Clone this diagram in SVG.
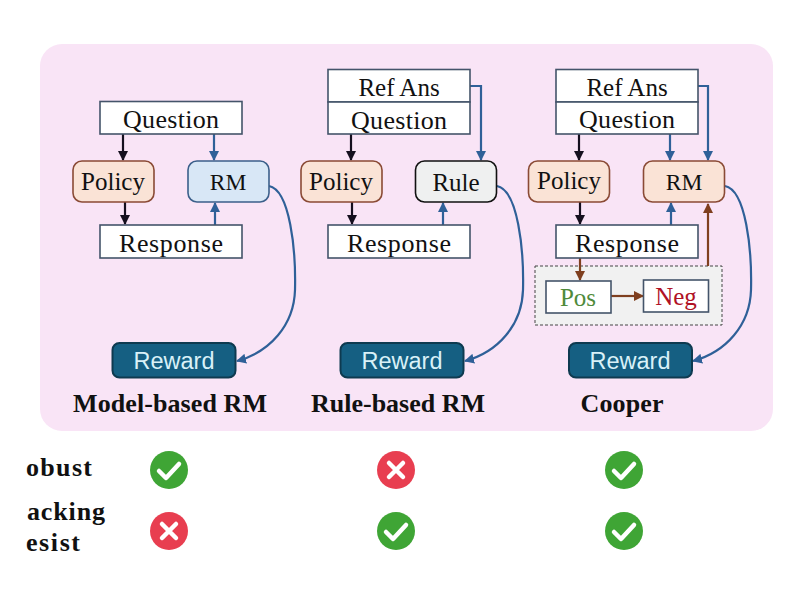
<svg xmlns="http://www.w3.org/2000/svg" width="800" height="600" viewBox="0 0 800 600">
<style>
text{font-family:"Liberation Serif","Noto Serif",serif;fill:#111;text-anchor:middle}
.t{font-size:25px}
.s{font-size:23.5px}
.q{font-size:26px}
.b{font-size:26px;font-weight:bold}
.l{font-size:26px;font-weight:bold;text-anchor:start}
.r{fill:#fff;stroke:#44546a;stroke-width:1.6}
.p{fill:#fae3d6;stroke:#8a4a35;stroke-width:1.6}
.w{fill:#155f82;stroke:#0e3a50;stroke-width:2}
.wt{font-family:"Liberation Sans",sans-serif;font-size:23.5px;fill:#d9f1f8}
.k,.u,.o{fill:none;stroke-width:2.2}
.k{stroke:#150f1e;marker-end:url(#ak)}
.u{stroke:#2f6098;marker-end:url(#au)}
.o{stroke:#7f3f1f;marker-end:url(#ao)}
.ok{fill:#3fa535}.no{fill:#e83e50}
.m{fill:none;stroke:#fff;stroke-width:4.5;stroke-linecap:round;stroke-linejoin:round}
</style>
<defs>
<marker id="ak" markerWidth="11" markerHeight="10" refX="9" refY="5" orient="auto" markerUnits="userSpaceOnUse"><path d="M0 0L10 5L0 10Z" fill="#150f1e"/></marker>
<marker id="au" markerWidth="11" markerHeight="10" refX="9" refY="5" orient="auto" markerUnits="userSpaceOnUse"><path d="M0 0L10 5L0 10Z" fill="#2f6098"/></marker>
<marker id="ao" markerWidth="11" markerHeight="10" refX="9" refY="5" orient="auto" markerUnits="userSpaceOnUse"><path d="M0 0L10 5L0 10Z" fill="#7f3f1f"/></marker>
</defs>
<rect width="800" height="600" fill="#fff"/>
<rect id="panel" x="40" y="44" width="733" height="387" rx="22" fill="#f9e4f6"/>
<g id="group-box"><rect x="535" y="266" width="187" height="59" fill="#f1f1f1" stroke="#444" stroke-width="1" stroke-dasharray="3 2"/></g>
<g id="connectors">
<path class="k" d="M123 134V160"/><path class="k" d="M125 202V224"/>
<path class="u" d="M214 134V160"/><path class="u" d="M215 225V203"/>
<path class="u" d="M269 186C290 190 296 250 295 290C294 325 270 352 237 361"/>
<path class="k" d="M351 134V160"/><path class="k" d="M352 202V224"/>
<path class="u" d="M470 86H481V160"/><path class="u" d="M443 225V203"/>
<path class="u" d="M497 186C518 190 524 250 523 290C522 325 498 352 465 361"/>
<path class="k" d="M579 134V160"/><path class="k" d="M580 202V224"/>
<path class="u" d="M670 134V160"/><path class="u" d="M698 86H708V160"/><path class="u" d="M671 225V203"/>
<path class="u" d="M725 186C746 190 752 250 751 290C750 325 726 352 693 361"/>
<path class="o" d="M708 266V204"/><path class="o" d="M580 258V280"/><path class="o" d="M611 296H643"/>
</g>
<g id="col1">
<g id="q1"><rect class="r" x="100" y="101.500" width="142" height="32.500"/><text class="q" x="171" y="128" textLength="96">Question</text></g>
<g id="policy1"><rect class="p" x="73" y="161" width="81" height="41" rx="9"/><text class="t" x="113" y="190">Policy</text></g>
<g id="rm1"><rect x="188" y="161" width="81" height="41" rx="9" fill="#d8e7f6" stroke="#3b5f8a" stroke-width="1.600"/><text class="s" x="228" y="190">RM</text></g>
<g id="resp1"><rect class="r" x="100" y="225" width="142" height="33"/><text class="q" x="171" y="252" textLength="104">Response</text></g>
<g id="reward1"><rect class="w" x="112.500" y="343" width="123" height="34.500" rx="7"/><text class="wt" x="174" y="369">Reward</text></g>
<text class="b" x="170" y="412" textLength="194">Model-based RM</text>
</g>
<g id="col2">
<g id="ref2"><rect class="r" x="328" y="69.500" width="142" height="32.500"/><text class="t" x="399" y="96">Ref Ans</text></g>
<g id="q2"><rect class="r" x="328" y="102" width="142" height="32"/><text class="q" x="399" y="129" textLength="96">Question</text></g>
<g id="policy2"><rect class="p" x="301" y="161" width="81" height="41" rx="9"/><text class="t" x="341" y="190">Policy</text></g>
<g id="rule2"><rect x="415.500" y="161" width="81" height="41" rx="9" fill="#eff0f0" stroke="#111" stroke-width="1.600"/><text class="t" x="456" y="191">Rule</text></g>
<g id="resp2"><rect class="r" x="328" y="225" width="142" height="33"/><text class="q" x="399" y="252" textLength="104">Response</text></g>
<g id="reward2"><rect class="w" x="340.500" y="343" width="123" height="34.500" rx="7"/><text class="wt" x="402" y="369">Reward</text></g>
<text class="b" x="398" y="412" textLength="174">Rule-based RM</text>
</g>
<g id="col3">
<g id="ref3"><rect class="r" x="556" y="69.500" width="142" height="32.500"/><text class="t" x="627" y="96">Ref Ans</text></g>
<g id="q3"><rect class="r" x="556" y="102" width="142" height="32"/><text class="q" x="627" y="128" textLength="96">Question</text></g>
<g id="policy3"><rect class="p" x="528.500" y="161" width="81" height="41" rx="9"/><text class="t" x="569" y="189">Policy</text></g>
<g id="rm3"><rect class="p" x="643.500" y="161" width="81" height="41" rx="9"/><text class="s" x="684" y="190">RM</text></g>
<g id="resp3"><rect class="r" x="556" y="225" width="142" height="33"/><text class="q" x="627" y="252" textLength="104">Response</text></g>
<g id="pos"><rect class="r" x="546" y="281" width="65" height="32"/><text class="t" style="fill:#4f8a3a" x="578" y="306">Pos</text></g>
<g id="neg"><rect class="r" x="643.500" y="280" width="65" height="32"/><text class="t" style="fill:#b01225" x="676" y="305">Neg</text></g>
<g id="reward3"><rect class="w" x="569" y="343" width="123" height="34.500" rx="7"/><text class="wt" x="630" y="369">Reward</text></g>
<text class="b" x="622" y="412" textLength="83">Cooper</text>
</g>
<g id="labels">
<text class="l" x="26" y="476" textLength="66">obust</text>
<text class="l" x="27" y="520" textLength="78">acking</text>
<text class="l" x="26" y="551" textLength="54">esist</text>
</g>
<g id="marks">
<g id="m1"><circle class="ok" cx="169" cy="470" r="19"/><path class="m" d="M159 471L166 478L179 464"/></g>
<g id="m2"><circle class="no" cx="396" cy="470" r="19"/><path class="m" d="M389 463L403 477M403 463L389 477"/></g>
<g id="m3"><circle class="ok" cx="624" cy="470" r="19"/><path class="m" d="M614 471L621 478L634 464"/></g>
<g id="m4"><circle class="no" cx="169" cy="531" r="19"/><path class="m" d="M162 524L176 538M176 524L162 538"/></g>
<g id="m5"><circle class="ok" cx="396" cy="531" r="19"/><path class="m" d="M386 532L393 539L406 525"/></g>
<g id="m6"><circle class="ok" cx="624" cy="531" r="19"/><path class="m" d="M614 532L621 539L634 525"/></g>
</g>
</svg>
